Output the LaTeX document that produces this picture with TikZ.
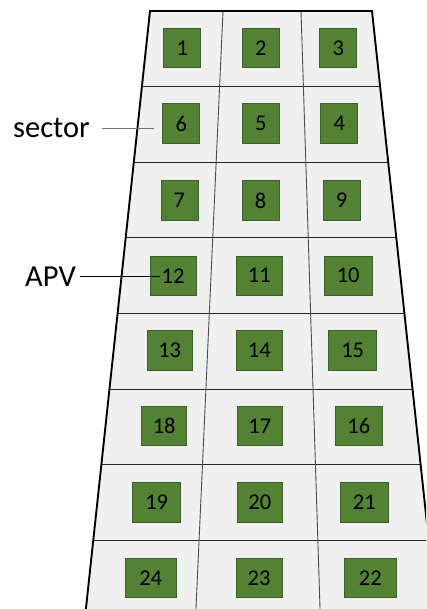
\documentclass[tikz,border=0pt]{standalone}
\usepackage{fontspec}
\setmainfont{Carlito}
\usetikzlibrary{calc}
\definecolor{panelgray}{HTML}{F0F0F0}
\definecolor{apvgreen}{HTML}{548235}
\definecolor{apvborder}{HTML}{3E6129}
\tikzset{
  apv/.style={draw=apvborder, line width=0.8pt, fill=apvgreen, minimum height=39.5pt, inner sep=0pt, font=\fontsize{22.5}{27}\selectfont},
  rowline/.style={draw=black!85, line width=1pt},
  colline/.style={draw=black!70, line width=0.9pt},
  edge/.style={draw=black, line width=1.9pt},
  lbl/.style={inner sep=0pt, font=\fontsize{30.5}{36}\selectfont}
}
\begin{document}
\begin{tikzpicture}[x=1pt, y=-1pt]
\useasboundingbox (0,0) rectangle (426,609);
\clip (0,0) rectangle (426,609);
\coordinate (TL) at (150,11);
\coordinate (TR) at (372,11);
\coordinate (BL) at (86,608);
\coordinate (BR) at (436,608);
\coordinate (BLx) at ($(TL)!1.05!(BL)$);
\coordinate (BRx) at ($(TR)!1.05!(BR)$);
\fill[panelgray] (TL) -- (TR) -- (BRx) -- (BLx) -- cycle;
% row lines
\foreach \k in {1,...,7}{
  \draw[rowline] ($(TL)!0.12663*\k!(BL)$) -- ($(TR)!0.12663*\k!(BR)$);
}
% column dividers
\coordinate (D1t) at (223,11);
\coordinate (D1b) at (196,608);
\coordinate (D2t) at (301,11);
\coordinate (D2b) at (320,608);
\draw[colline] (D1t) -- ($(D1t)!1.05!(D1b)$);
\draw[colline] (D2t) -- ($(D2t)!1.05!(D2b)$);
% outer edges
\draw[edge, line join=miter] (BLx) -- (TL) -- (TR) -- (BRx);
% APV boxes
\node[apv, minimum width=37pt] (s1) at (182.3,48) {1};
\node[apv, minimum width=37pt] (s2) at (260.7,48) {2};
\node[apv, minimum width=37pt] (s3) at (338.2,48) {3};
\node[apv, minimum width=37pt] (s6) at (181.2,123.5) {6};
\node[apv, minimum width=37pt] (s5) at (260.7,123.5) {5};
\node[apv, minimum width=37pt] (s4) at (339.2,123.5) {4};
\node[apv, minimum width=37pt] (s7) at (179.4,200.5) {7};
\node[apv, minimum width=37pt] (s8) at (260.5,200.5) {8};
\node[apv, minimum width=37pt] (s9) at (341.5,200.5) {9};
\node[apv, minimum width=46pt] (s12) at (173,275.7) {12};
\node[apv, minimum width=46pt] (s11) at (259.3,275.7) {11};
\node[apv, minimum width=48pt] (s10) at (348.2,275.7) {10};
\node[apv, minimum width=45pt] (s13) at (169.7,350.5) {13};
\node[apv, minimum width=46pt] (s14) at (259.3,350.5) {14};
\node[apv, minimum width=48pt] (s15) at (352.7,350.5) {15};
\node[apv, minimum width=45pt] (s18) at (164.2,425.8) {18};
\node[apv, minimum width=45pt] (s17) at (259.8,425.8) {17};
\node[apv, minimum width=47pt] (s16) at (358.8,425.8) {16};
\node[apv, minimum width=48pt] (s19) at (156.7,502.5) {19};
\node[apv, minimum width=45pt] (s20) at (259.8,502.5) {20};
\node[apv, minimum width=48.7pt] (s21) at (364.3,502.5) {21};
\node[apv, minimum width=51.3pt] (s24) at (150.7,578) {24};
\node[apv, minimum width=46pt] (s23) at (259,578) {23};
\node[apv, minimum width=52pt] (s22) at (370.3,578) {22};
% labels
\node[lbl, anchor=base west] (sector) at (13,138) {sector};
\node[lbl, anchor=base west] (apvlbl) at (25,286) {APV};
\draw[black!55, line width=1pt] ([xshift=12pt]sector.east) -- ([xshift=-8.5pt]sector.east -| s6.west);
\draw[black, line width=1pt] ([xshift=4pt]apvlbl.east) -- ([xshift=10pt]apvlbl.east -| s12.west);
\end{tikzpicture}
\end{document}
